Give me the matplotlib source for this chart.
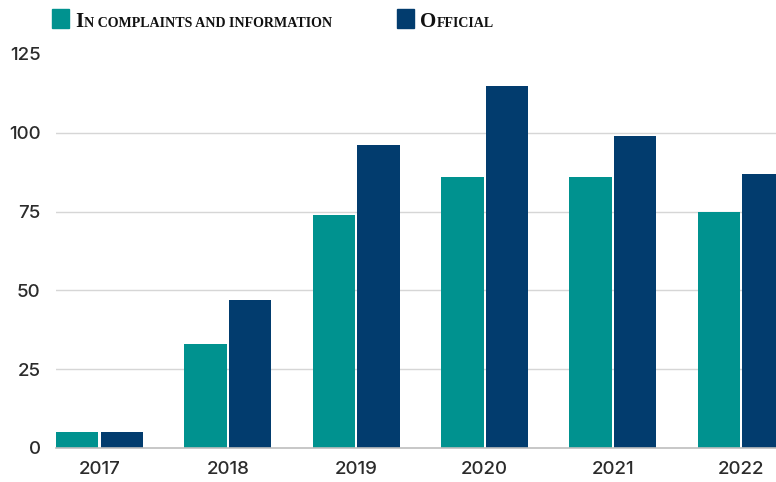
import matplotlib.pyplot as plt
import numpy as np

years = ["2017", "2018", "2019", "2020", "2021", "2022"]
complaints = [5, 33, 74, 86, 86, 75]
official = [5, 47, 96, 115, 99, 87]

teal = "#00928f"
navy = "#023c6e"

fig = plt.figure(figsize=(7.76, 4.82), dpi=100)
ax = fig.add_axes([56 / 776, 34 / 482, 1 - 56 / 776, (448 - 54) / 482])

x = np.arange(len(years))
w = 0.331
gap = 0.016
ax.bar(x - (w + gap) / 2, complaints, w, color=teal, zorder=3)
ax.bar(x + (w + gap) / 2, official, w, color=navy, zorder=3)

ax.set_xlim(-w - gap / 2, 5.27)
ax.set_ylim(0, 125)
ax.set_yticks([0, 25, 50, 75, 100, 125])
ax.set_xticks(x)
ax.set_xticklabels(years)

for s in ["top", "right", "left"]:
    ax.spines[s].set_visible(False)
ax.spines["bottom"].set_color("#bdbdbd")
ax.spines["bottom"].set_linewidth(1.2)
ax.spines["bottom"].set_zorder(4)

for v in [25, 50, 75, 100]:
    ax.axhline(v, color="#d6d6d6", lw=1, zorder=1)

ax.tick_params(axis="both", length=0, labelsize=13.5, labelcolor="#2b2b2b",
               labelfontfamily="Inter")
ax.tick_params(axis="y", pad=11)
ax.tick_params(axis="x", pad=9)
for lbl in ax.get_xticklabels() + ax.get_yticklabels():
    lbl.set_fontweight("medium")

renderer = fig.canvas.get_renderer()

# legend: squares plus faked small-caps labels
def small_caps(x0, first, rest, color):
    fig.patches.append(plt.Rectangle((x0 / 776, 1 - 28 / 482), 17 / 776, 19 / 482,
                                     transform=fig.transFigure, color=color))
    base = 1 - 27 / 482
    t = fig.text((x0 + 23) / 776, base, first, fontsize=15, fontweight="bold",
                 family="Liberation Serif", color="#111111", va="baseline")
    bb = t.get_window_extent(renderer)
    fig.text(bb.x1 / 776 + 0.5 / 776, base, rest, fontsize=10.1, fontweight="bold",
             family="Liberation Serif", color="#111111", va="baseline")

small_caps(52, "I", "N COMPLAINTS AND INFORMATION", teal)
small_caps(397, "O", "FFICIAL", navy)

fig.savefig("out.png", dpi=100)
